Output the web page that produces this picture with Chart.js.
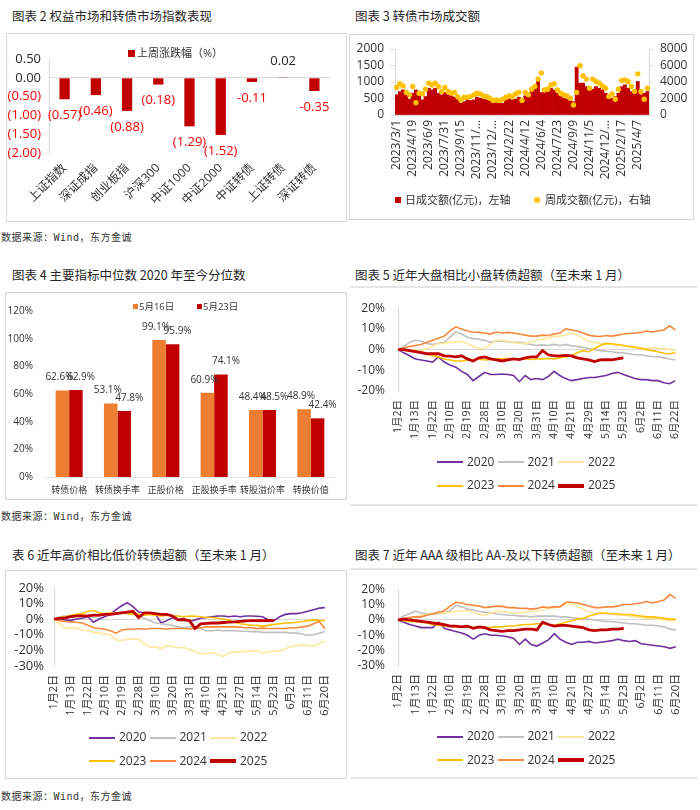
<!DOCTYPE html>
<html lang="zh-CN">
<head>
<meta charset="utf-8">
<title>转债市场图表</title>
<script src="https://cdn.jsdelivr.net/npm/chart.js@4.4.1/dist/chart.umd.min.js"></script>
<style>
  html, body { margin: 0; padding: 0; background: #fff; }
  body { position: relative; width: 700px; height: 810px; overflow: hidden; font-family: "Noto Sans CJK SC", sans-serif; color: #262626; }
  .title { position: absolute; font-size: 12.5px; line-height: 16px; white-space: nowrap; color: #262626; }
  .source { position: absolute; left: 1px; font-family: "DejaVu Sans Mono", "Noto Sans CJK SC", monospace; font-size: 10px; line-height: 12px; letter-spacing: 0.5px; color: #333; white-space: nowrap; }
  .box { position: absolute; border: 1px solid #D9D9D9; box-sizing: border-box; }
  .rule { position: absolute; left: 350px; width: 347px; border-top: 2px solid #E6E6E6; }
  .chart { position: absolute; }
  .lg { position: absolute; font-family: "Open Sans", "Noto Sans CJK SC", sans-serif; white-space: nowrap; color: #333; }
  .sw { position: absolute; }
</style>
</head>
<body>

<div class="title" style="left:12px;top:8px">图表 2 权益市场和转债市场指数表现</div>
<div class="title" style="left:355px;top:8px">图表 3 转债市场成交额</div>
<div class="title" style="left:12px;top:267px">图表 4 主要指标中位数 2020 年至今分位数</div>
<div class="title" style="left:355px;top:267px">图表 5 近年大盘相比小盘转债超额（至未来 1 月）</div>
<div class="title" style="left:12px;top:547px">表 6 近年高价相比低价转债超额（至未来 1 月）</div>
<div class="title" style="left:355px;top:547px">图表 7 近年 AAA 级相比 AA-及以下转债超额（至未来 1 月）</div>

<div class="box" style="left:6px;top:33px;width:341px;height:189px"></div>
<div class="box" style="left:349px;top:34px;width:345px;height:186px"></div>
<div class="box" style="left:5px;top:292px;width:342px;height:208px"></div>
<div class="box" style="left:5px;top:570px;width:342px;height:209px"></div>
<div class="rule" style="top:286px"></div>
<div class="rule" style="top:504px"></div>
<div class="rule" style="top:568px"></div>
<div class="rule" style="top:777px"></div>

<div class="source" style="top:232px">数据来源：Wind，东方金诚</div>
<div class="source" style="top:511px">数据来源：Wind，东方金诚</div>
<div class="source" style="top:791px">数据来源：Wind，东方金诚</div>

<div class="chart" style="left:6px;top:33px;width:341px;height:189px"><canvas id="indexChart"></canvas></div>
<div class="chart" style="left:350px;top:34px;width:343px;height:186px"><canvas id="amountChart"></canvas></div>
<div class="chart" style="left:5px;top:292px;width:342px;height:208px"><canvas id="pctChart"></canvas></div>
<div class="chart" style="left:350px;top:288px;width:347px;height:216px"><canvas id="bigSmallChart"></canvas></div>
<div class="chart" style="left:5px;top:570px;width:342px;height:209px"><canvas id="hiLowChart"></canvas></div>
<div class="chart" style="left:350px;top:569px;width:347px;height:209px"><canvas id="aaaChart"></canvas></div>

<script>
// 图表 2
const indexNames = ['上证指数', '深证成指', '创业板指', '沪深300', '中证1000', '中证2000', '中证转债', '上证转债', '深证转债'];
const weeklyChange = [-0.57, -0.46, -0.88, -0.18, -1.29, -1.52, -0.11, 0.02, -0.35];
const weeklyChangeText = ['(0.57)', '(0.46)', '(0.88)', '(0.18)', '(1.29)', '(1.52)', '-0.11', '0.02', '-0.35'];

// 图表 3
const amountTicks = ['2023/3/1', '2023/4/19', '2023/6/9', '2023/7/31', '2023/9/15', '2023/11/…', '2023/12/…', '2024/2/22',
    '2024/4/12', '2024/6/4', '2024/7/23', '2024/9/9', '2024/11/5', '2024/12/…', '2025/2/17', '2025/4/7'];
const dailyAmount = [610, 710, 760, 610, 480, 660, 760, 660, 460, 560,
    810, 760, 810, 660, 610, 680, 610, 580, 540, 460,
    355, 405, 460, 440, 460, 540, 510, 480, 460, 440,
    375, 375, 405, 355, 440, 480, 460, 480, 540, 480,
    580, 660, 760, 860, 1015, 680, 680, 710, 810, 760,
    660, 560, 510, 480, 460, 405, 1450, 965, 965, 860,
    810, 780, 860, 810, 760, 660, 510, 510, 560, 660,
    860, 915, 810, 710, 660, 1015, 610, 660, 710];
const weeklyAmount = [3330, 3780, 3530, 2720, 2440, 3450, 1500, 2640, 2560, 3130,
    3860, 3650, 3860, 3450, 2840, 3330, 2840, 2640, 2720, 2230,
    1830, 2150, 2150, 2230, 2440, 2640, 2560, 2310, 2230, 2030,
    1750, 1830, 1750, 1910, 2150, 2310, 2230, 2560, 2720, 1750,
    2720, 2440, 3130, 3450, 4350, 5080, 3050, 3130, 3650, 3780,
    3050, 2640, 2440, 2310, 2030, 1220, 2720, 5970, 4750, 4350,
    3250, 4350, 4060, 3860, 3530, 3250, 2230, 2560, 1910, 3130,
    4180, 4260, 4060, 3450, 2840, 4990, 2840, 1910, 3250];

// 图表 4
const pctNames = ['转债价格', '转债换手率', '正股价格', '正股换手率', '转股溢价率', '转换价值'];
const pctMay16 = [62.6, 53.1, 99.1, 60.9, 48.4, 48.9];
const pctMay23 = [62.9, 47.8, 95.9, 74.1, 48.5, 42.4];

// 图表 5 / 6 / 7
const yearNames = ['2020', '2021', '2022', '2023', '2024', '2025'];
const bigSmallTicks = ['1月2日', '1月13日', '1月22日', '2月10日', '2月19日', '2月28日', '3月10日', '3月20日', '3月31日',
    '4月10日', '4月21日', '4月29日', '5月14日', '5月23日', '6月2日', '6月11日', '6月22日'];
const laterTicks = ['1月2日', '1月13日', '1月22日', '2月10日', '2月19日', '2月28日', '3月10日', '3月20日', '3月31日',
    '4月10日', '4月21日', '4月27日', '5月14日', '5月23日', '6月2日', '6月11日', '6月20日'];

const bigSmall2020 = [0, -1.5, -3, -4.5, -5, -5.5, -6, -3.5, -6, -7.5, -8.5, -10.5, -12, -15, -13, -11, -12, -12, -11.8, -12, -12.5, -15.5, -12.5, -14.5, -14, -14.5, -13, -10.5, -12.5, -14, -15, -14.5, -14, -13.5, -13.5, -13, -12.5, -11.5, -11, -12, -13, -14, -14.5, -14.5, -15, -15, -16, -16.5, -15];
const bigSmall2021 = [0, 1.5, 3.5, 4.5, 4, 3, 2.5, 3, 3.5, 6, 8.5, 7.5, 6, 5.3, 5, 4.5, 3.5, 4, 4, 3.8, 3.5, 3.5, 3, 2.5, 2, 2.3, 2, 2.5, 2, 2.5, 1.8, 1.5, 1, 0.5, 0, -0.5, -0.8, -1, -1.5, -1.5, -2, -2.5, -2.5, -3, -3.3, -3.5, -4, -4.5, -5];
const bigSmall2022 = [0, -0.5, -0.5, 0, -0.5, 0.5, 1.5, 3, 3, 3.5, 3.5, 4, 3, 1.5, 0.5, 0.5, 2.5, 4.5, 4.5, 4, 3.5, 3, 2.8, 3.5, 4.5, 5, 5.5, 6.5, 6.5, 7, 8, 7, 5.5, 4, 3.5, 3, 2.8, 2.5, 2, 2, 1.5, 1.5, 1, 0.5, 1, 0.5, 0.5, 0, -0.5];
const bigSmall2023 = [0, -0.3, -0.5, -0.8, -1.2, -2, -3, -3.5, -4.5, -5, -5.5, -5.5, -5, -5, -4.5, -5, -4.8, -4.5, -4.5, -4.3, -4.5, -4.5, -4.5, -4.8, -4.5, -4.5, -4.3, -4.5, -4, -3.5, -3, -1.5, -0.5, -1, 0.5, 2, 3, 2.8, 2.5, 2, 1.5, 1, 0.5, 0, -0.5, -1, -1.8, -2, -1.5];
const bigSmall2024 = [0, 0.8, 1.5, 2, 2.5, 3.5, 4.5, 5.5, 6.5, 9, 11, 10, 9, 8.5, 8.3, 8, 7.5, 8.5, 8, 8.3, 8, 7.5, 7, 6.5, 6.5, 7, 6.8, 7.5, 8, 10, 9.5, 9, 8, 7, 6.5, 6.3, 6.8, 6.5, 7, 7.5, 7.8, 8, 8.3, 9, 8.5, 9, 9.5, 11.5, 9.5];
const bigSmall2025 = [0, 0, -0.5, -1, -1.5, -2, -2, -2, -3, -3.2, -3.5, -3, -4.5, -5.5, -4, -3.5, -4.5, -5, -5.5, -5, -4.5, -4.8, -4, -3.5, -3.5, -0.5, -2.5, -3, -3, -2.8, -3, -4, -4.5, -5, -5.8, -5, -4.8, -5, -4.5, -4];

const hiLow2020 = [0, 0.5, -0.5, -0.8, 0, 0.5, 1.5, -2, 0, 1.5, 3, 6, 8.5, 10.5, 8, 4.5, 4, 4, 3, -2.5, -1, 1, -0.5, 0.5, -1.5, -0.5, 0.5, 1, 1.5, 2, 2, 1.5, 2, 1.5, 2, 2, 1.8, 1.5, -0.5, -1, 1.5, 3, 3.5, 3.5, 4, 5, 6, 7, 7.3];
const hiLow2021 = [0, 1.5, 2, 1.5, 2, 1.5, 2, 1, 2, 2.5, 3.5, 4, 4.5, 4, 3.5, 2, 0.5, -1, -2.5, -3, -3.5, -4, -5, -5.5, -5, -5, -6, -7.5, -7.5, -7, -7.5, -7.5, -7.5, -7.8, -7.8, -8, -8, -8.5, -8.5, -8.5, -8.5, -8.5, -9, -9, -9.5, -10.5, -10, -9, -8];
const hiLow2022 = [0, -3, -6, -5.5, -6, -7, -7.5, -8.5, -9, -9.5, -10, -13.5, -13.5, -13, -12.5, -13, -15.5, -18, -17.5, -19, -17, -17.5, -18.5, -18, -19.5, -20.5, -22, -22, -21.5, -22.5, -24, -21.5, -21, -21, -20.5, -20.5, -20, -21.5, -21, -20.5, -20.5, -19, -17.5, -17, -16.5, -17, -17.5, -15.5, -14];
const hiLow2023 = [0, 1, 1.5, 2.5, 3, 3.5, 5, 5.5, 4, 3.5, 4, 3.5, 4, 3.5, 3, 3, 2.5, 3, 2.5, 2, 2.5, 2, 2, 1.5, 2, 1.8, 1.5, 1, 1, 0.5, 0, -0.5, -2, -3, -3.5, -4, -4, -4.5, -4, -3.5, -3, -2.5, -2.5, -2, -1.5, -1, -0.5, -0.8, -1];
const hiLow2024 = [0, -1, -1.5, -1.8, -2, -2.5, -4, -5.5, -6, -6.5, -7.5, -9, -7, -6.5, -6.5, -6, -6.5, -6, -6, -6, -6.5, -6, -6, -6, -6.3, -6, -5.5, -5, -5, -5, -4.8, -5, -5, -5.2, -5.5, -5.5, -6, -5.8, -6, -6, -6, -6, -5.5, -5.5, -5, -4.5, -3, -1.5, -6];
const hiLow2025 = [0, 0.5, 0.8, 1.5, 2, 2, 2, 2.5, 2.5, 3, 3, 3.5, 4, 4.5, 5, 1, 4, 4, 3.5, 3, 3, 2, -0.5, -0.5, -1, -6, -3, -2.8, -2.5, -2.5, -2.2, -2, -1.8, -1.5, -1.2, -1, -1, -1, -0.8, -1];

const aaa2020 = [0, -1.5, -3, -4, -5, -5, -5, -1.5, -5.5, -6.5, -7.5, -8.5, -10, -12.5, -10, -9, -10, -10, -10.5, -11, -12, -16, -12.5, -16, -17, -15, -13, -9, -12.5, -14.5, -16, -14.5, -14.5, -14, -15, -14.5, -14, -13.5, -12.5, -13.5, -14, -13.5, -15.5, -16, -16.5, -17, -17.5, -18.5, -17.5];
const aaa2021 = [0, 2.5, 4, 5.8, 4.5, 4, 3.5, 4, 4.5, 6, 9.5, 8.5, 7, 6.5, 5.5, 5, 4.5, 4, 3.5, 3, 3, 2.5, 2.5, 2, 2.5, 2.5, 2.5, 2.5, 2, 2, 1.5, 1, 0.5, 0.5, 0, -0.5, -1, -1, -1.5, -2, -2.5, -2.5, -3, -3.5, -3.5, -4, -4.5, -6, -6.5];
const aaa2022 = [0, 0.5, 1, 2, 3, 3.5, 4, 4.5, 4.5, 5, 5.5, 6, 6, 5, 3.5, 3, 4.5, 5.5, 5.5, 5, 4.5, 4.5, 5, 5.5, 6, 6.5, 7.5, 8, 9, 10, 10.5, 9, 7, 5, 4.5, 4, 4, 3.5, 3, 3, 2.5, 2, 1.5, 1, 1, 0.5, 0, -0.5, -0.5];
const aaa2023 = [0, -0.5, -1, -1.2, -1.5, -2, -3, -3.5, -4, -4, -4.5, -4.5, -4.5, -5, -5, -5, -4.8, -4.5, -4.5, -4, -4, -3.5, -3, -3, -2.5, -2.5, -3, -3.5, -2.5, -1.5, -0.5, 0.5, 1, 2.5, 3.5, 4.5, 4.5, 4, 4, 3.5, 3.5, 3, 2.5, 2, 2, 1.5, 1, 0.5, 0.5];
const aaa2024 = [0, 1, 1.5, 2, 2, 3, 4, 5, 6, 9, 11.5, 11, 10, 9.5, 9, 8, 8.5, 9, 8.8, 8, 8, 7.5, 7.5, 7, 7.5, 8.5, 8, 8.5, 8.5, 11.5, 11.5, 11, 10, 9, 8, 8, 8.5, 8.5, 9, 10, 10, 10.5, 11, 12, 11, 12, 13, 16.5, 14];
const aaa2025 = [0, 0.5, 0, -0.5, -1, -1.5, -2, -2.5, -3, -4, -4, -4.5, -4, -5.5, -4.5, -5, -6.5, -7, -7.5, -7, -7, -6.5, -6, -6, -6.5, -1.5, -3, -4, -3.5, -3.5, -4, -4.5, -5, -6.5, -7, -6.5, -6.5, -6, -6, -5.5];

const yearColors = ['#7030A0', '#BFBFBF', '#FFE699', '#FFC000', '#F4883C', '#C00000'];
const yearWidths = [1.6, 1.6, 1.6, 1.6, 1.6, 2.8];

Chart.defaults.font.family = '"Open Sans", "Noto Sans CJK SC", sans-serif';
Chart.defaults.color = '#333';
Chart.defaults.animation = false;

document.addEventListener('DOMContentLoaded', function() {
    drawIndexChart();
    drawAmountChart();
    drawPctChart();
    drawYearChart('bigSmallChart', [bigSmall2020, bigSmall2021, bigSmall2022, bigSmall2023, bigSmall2024, bigSmall2025], bigSmallTicks, -20,
        { top: 14, right: 15, yWidth: 48, xHeight: 113, yPad: 13, xPad: 9, yFont: 12, xFont: 10.5 });
    drawYearChart('hiLowChart', [hiLow2020, hiLow2021, hiLow2022, hiLow2023, hiLow2024, hiLow2025], laterTicks, -30,
        { top: 13, right: 15, yWidth: 49, xHeight: 113, yPad: 10, xPad: 9, yFont: 13, xFont: 11 });
    drawYearChart('aaaChart', [aaa2020, aaa2021, aaa2022, aaa2023, aaa2024, aaa2025], laterTicks, -30,
        { top: 15, right: 15, yWidth: 48, xHeight: 112, yPad: 13, xPad: 8, yFont: 12, xFont: 11 });

    addBoxLegend(128, 50, 7, '#C00000', '上周涨跌幅（%）', 137, 53, 11);
    addBoxLegend(395, 197, 6, '#C00000', '日成交额(亿元)，左轴', 405, 200, 11);
    addDotLegend(537, 200, 6, '#FFC000', '周成交额(亿元)，右轴', 543, 200, 11);
    addBoxLegend(133, 304, 5, '#ED7D31', '5月16日', 139, 306.5, 9.5);
    addBoxLegend(197, 304, 5, '#C00000', '5月23日', 203, 306.5, 9.5);
    addLineLegend(437, 462.3);
    addLineLegend(89, 737.7);
    addLineLegend(437, 736.7);
});

function spreadTicks(tickLabels, step, count) {
    const labels = [];
    for (let i = 0; i < count; i++) {
        labels.push(i % step === 0 && tickLabels[i / step] ? tickLabels[i / step] : '');
    }
    return labels;
}

function addText(text, left, centerY, size) {
    const el = document.createElement('div');
    el.className = 'lg';
    el.textContent = text;
    el.style.left = left + 'px';
    el.style.top = (centerY - size * 0.7) + 'px';
    el.style.fontSize = size + 'px';
    el.style.lineHeight = (size * 1.4) + 'px';
    document.body.appendChild(el);
}

function addSwatch(left, top, width, height, color, round) {
    const el = document.createElement('div');
    el.className = 'sw';
    el.style.cssText = 'left:' + left + 'px;top:' + top + 'px;width:' + width + 'px;height:' + height + 'px;background:' + color + ';' + (round ? 'border-radius:50%;' : '');
    document.body.appendChild(el);
}

function addBoxLegend(x, y, size, color, text, textX, textY, fontSize) {
    addSwatch(x, y, size, size, color, false);
    addText(text, textX, textY, fontSize);
}

function addDotLegend(cx, cy, size, color, text, textX, textY, fontSize) {
    addSwatch(cx - size / 2, cy - size / 2, size, size, color, true);
    addText(text, textX + 2, textY, fontSize);
}

function addLineLegend(left, top) {
    yearNames.forEach(function(name, i) {
        const x = left + (i % 3) * 60.5;
        const y = top + Math.floor(i / 3) * 23.5;
        const h = i === 5 ? 3.5 : 2;
        addSwatch(x, y - h / 2, 26, h, yearColors[i], false);
        addText(name, x + 30, y, 12);
    });
}

function drawIndexChart() {
    const labelPlugin = {
        id: 'changeLabels',
        afterDatasetsDraw(chart) {
            const ctx = chart.ctx;
            ctx.save();
            ctx.font = '13px "Open Sans", "Noto Sans CJK SC", sans-serif';
            ctx.textAlign = 'center';
            ctx.textBaseline = 'middle';
            chart.getDatasetMeta(0).data.forEach((bar, i) => {
                const v = weeklyChange[i];
                ctx.fillStyle = v < 0 ? '#FF0000' : '#262626';
                ctx.fillText(weeklyChangeText[i], bar.x, v < 0 ? bar.y + 16 : bar.y - 16);
            });
            ctx.restore();
        }
    };

    new Chart(document.getElementById('indexChart'), {
        type: 'bar',
        data: {
            labels: indexNames,
            datasets: [{
                label: '上周涨跌幅（%）',
                data: weeklyChange,
                backgroundColor: '#C00000',
                barPercentage: 0.33,
                categoryPercentage: 1
            }]
        },
        options: {
            responsive: true,
            maintainAspectRatio: false,
            layout: { padding: { top: 26, right: 17, left: 0, bottom: 0 } },
            plugins: { legend: { display: false }, tooltip: { enabled: false } },
            scales: {
                x: {
                    grid: { display: false, drawTicks: false },
                    border: { display: false },
                    ticks: { font: { size: 12 }, minRotation: 45, maxRotation: 45, padding: 8, autoSkip: false },
                    afterFit: function(scale) { scale.height = 69; }
                },
                y: {
                    min: -2,
                    max: 0.5,
                    ticks: {
                        stepSize: 0.5,
                        padding: 8,
                        autoSkip: false,
                        font: { size: 13 },
                        color: ctx => ctx.tick.value < 0 ? '#FF0000' : '#262626',
                        callback: v => v < 0 ? '(' + (-v).toFixed(2) + ')' : v.toFixed(2)
                    },
                    grid: { drawTicks: false, color: ctx => ctx.tick.value === 0 ? '#D9D9D9' : 'rgba(0,0,0,0)' },
                    border: { color: '#D9D9D9' },
                    afterFit: function(scale) { scale.width = 43; }
                }
            }
        },
        plugins: [labelPlugin]
    });
}

function drawAmountChart() {
    new Chart(document.getElementById('amountChart'), {
        type: 'bar',
        data: {
            labels: spreadTicks(amountTicks, 5, dailyAmount.length),
            datasets: [{
                type: 'line',
                label: '周成交额(亿元)，右轴',
                data: weeklyAmount,
                yAxisID: 'y1',
                showLine: false,
                pointRadius: 2.7,
                pointBackgroundColor: '#FFC000',
                pointBorderWidth: 0,
                order: 0
            }, {
                label: '日成交额(亿元)，左轴',
                data: dailyAmount,
                yAxisID: 'y',
                backgroundColor: '#C00000',
                barPercentage: 1,
                categoryPercentage: 1,
                order: 1
            }]
        },
        options: {
            responsive: true,
            maintainAspectRatio: false,
            layout: { padding: { top: 15, right: 0, left: 0, bottom: 0 } },
            plugins: { legend: { display: false }, tooltip: { enabled: false } },
            scales: {
                x: {
                    grid: { display: false, drawTicks: false },
                    border: { color: '#D9D9D9' },
                    ticks: { autoSkip: false, minRotation: 90, maxRotation: 90, padding: 5, font: { size: 12 } },
                    afterFit: function(scale) { scale.height = 105; }
                },
                y: {
                    position: 'left',
                    min: 0,
                    max: 2000,
                    ticks: { stepSize: 500, padding: 7, autoSkip: false, font: { size: 12 }, callback: v => String(v) },
                    grid: { drawOnChartArea: false, tickLength: 4, color: '#D9D9D9' },
                    border: { color: '#D9D9D9' },
                    afterFit: function(scale) { scale.width = 45; }
                },
                y1: {
                    position: 'right',
                    min: 0,
                    max: 8000,
                    ticks: { stepSize: 2000, padding: 7, autoSkip: false, font: { size: 12 }, callback: v => String(v) },
                    grid: { drawOnChartArea: false, tickLength: 4, color: '#D9D9D9' },
                    border: { color: '#D9D9D9' },
                    afterFit: function(scale) { scale.width = 44; }
                }
            }
        }
    });
}

function drawPctChart() {
    const labelPlugin = {
        id: 'pctLabels',
        afterDatasetsDraw(chart) {
            const ctx = chart.ctx;
            ctx.save();
            ctx.font = '10px "Open Sans", "Noto Sans CJK SC", sans-serif';
            ctx.fillStyle = '#333';
            ctx.textAlign = 'center';
            ctx.textBaseline = 'middle';
            chart.data.datasets.forEach((dataset, d) => {
                chart.getDatasetMeta(d).data.forEach((bar, i) => {
                    ctx.fillText(dataset.data[i].toFixed(1) + '%', bar.x + (d === 0 ? -3 : 5), bar.y - 13);
                });
            });
            ctx.restore();
        }
    };

    new Chart(document.getElementById('pctChart'), {
        type: 'bar',
        data: {
            labels: pctNames,
            datasets: [{
                label: '5月16日',
                data: pctMay16,
                backgroundColor: '#ED7D31',
                barPercentage: 1,
                categoryPercentage: 0.56
            }, {
                label: '5月23日',
                data: pctMay23,
                backgroundColor: '#C00000',
                barPercentage: 1,
                categoryPercentage: 0.56
            }]
        },
        options: {
            responsive: true,
            maintainAspectRatio: false,
            layout: { padding: { top: 19, right: 12, left: 0, bottom: 0 } },
            plugins: { legend: { display: false }, tooltip: { enabled: false } },
            scales: {
                x: {
                    grid: { display: false, drawTicks: false },
                    border: { color: '#E6E6E6' },
                    ticks: { padding: 8, font: { size: 9 }, maxRotation: 0, autoSkip: false },
                    afterFit: function(scale) { scale.height = 23; }
                },
                y: {
                    min: 0,
                    max: 120,
                    ticks: { stepSize: 20, padding: 12, autoSkip: false, font: { size: 10 }, callback: v => v + '%' },
                    grid: { display: false, drawTicks: false },
                    border: { display: false },
                    afterFit: function(scale) { scale.width = 40; }
                }
            }
        },
        plugins: [labelPlugin]
    });
}

function drawYearChart(canvasId, seriesList, tickLabels, yMin, box) {
    new Chart(document.getElementById(canvasId), {
        type: 'line',
        data: {
            labels: spreadTicks(tickLabels, 3, seriesList[0].length),
            datasets: seriesList.map((values, i) => ({
                label: yearNames[i],
                data: values,
                borderColor: yearColors[i],
                borderWidth: yearWidths[i],
                pointRadius: 0,
                tension: 0,
                fill: false,
                order: yearNames.length - i
            }))
        },
        options: {
            responsive: true,
            maintainAspectRatio: false,
            layout: { padding: { top: box.top, right: box.right, left: 0, bottom: 0 } },
            plugins: { legend: { display: false }, tooltip: { enabled: false } },
            scales: {
                x: {
                    grid: { display: false, drawTicks: false },
                    border: { display: false },
                    ticks: { autoSkip: false, minRotation: 90, maxRotation: 90, padding: box.xPad, font: { size: box.xFont } },
                    afterFit: function(scale) { scale.height = box.xHeight; }
                },
                y: {
                    min: yMin,
                    max: 20,
                    ticks: { stepSize: 10, padding: box.yPad, autoSkip: false, font: { size: box.yFont }, callback: v => v + '%' },
                    grid: { drawTicks: false, color: ctx => ctx.tick.value === 0 ? '#D9D9D9' : 'rgba(0,0,0,0)' },
                    border: { color: '#D9D9D9' },
                    afterFit: function(scale) { scale.width = box.yWidth; }
                }
            }
        }
    });
}
</script>
</body>
</html>
